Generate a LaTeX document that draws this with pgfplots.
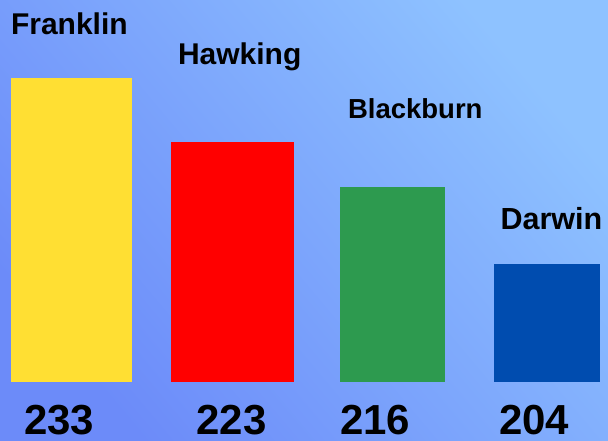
\documentclass[border=0pt]{standalone}
\usepackage{fontspec}
\setmainfont{Liberation Sans}
\usepackage{pgfplots}
\pgfplotsset{compat=1.18}
\definecolor{bgLL}{HTML}{6C8BF9}
\definecolor{bgUR}{HTML}{8EC2FF}
\definecolor{cyel}{HTML}{FFDF33}
\definecolor{cred}{HTML}{FF0000}
\definecolor{cgrn}{HTML}{2D9A4F}
\definecolor{cblu}{HTML}{004CAF}
\begin{document}
\begin{tikzpicture}
\shade[top color=bgUR, bottom color=bgLL, shading angle=-50] (0pt,0pt) rectangle (608pt,441pt);
\begin{axis}[
  at={(0pt,59.3pt)}, anchor=origin,
  scale only axis, width=608pt, height=381.7pt,
  xmin=0, xmax=608, ymin=185.6, ymax=245.17,
  hide axis, clip mode=individual,
  every node/.style={inner sep=0pt, outer sep=0pt},
]
\addplot[ybar, bar width=121pt, bar shift=0pt, fill=cyel, draw=none] coordinates {(71.5,233)};
\addplot[ybar, bar width=123pt, bar shift=0pt, fill=cred, draw=none] coordinates {(232.5,223)};
\addplot[ybar, bar width=105pt, bar shift=0pt, fill=cgrn, draw=none] coordinates {(392.5,216)};
\addplot[ybar, bar width=106pt, bar shift=0pt, fill=cblu, draw=none] coordinates {(547,204)};
\node[anchor=base west, font=\bfseries\fontsize{30}{36}\selectfont] at (axis cs:7.5,239.86) {Franklin};
\node[anchor=base west, font=\bfseries\fontsize{30}{36}\selectfont] at (axis cs:174.5,235.18) {Hawking};
\node[anchor=base west, font=\bfseries\fontsize{27.5}{33}\selectfont] at (axis cs:344.5,226.6) {Blackburn};
\node[anchor=base west, font=\bfseries\fontsize{30.5}{36}\selectfont] at (axis cs:497,209.43) {Darwin};
\node[anchor=base west, font=\bfseries\fontsize{42}{48}\selectfont] at (axis cs:20.5,177.4) {233};
\node[anchor=base west, font=\bfseries\fontsize{42}{48}\selectfont] at (axis cs:193,177.4) {223};
\node[anchor=base west, font=\bfseries\fontsize{42}{48}\selectfont] at (axis cs:336.5,177.4) {216};
\node[anchor=base west, font=\bfseries\fontsize{42}{48}\selectfont] at (axis cs:495.5,177.4) {204};
\end{axis}
\pgfresetboundingbox
\path[use as bounding box] (0pt,0pt) rectangle (608pt,441pt);
\end{tikzpicture}
\end{document}
